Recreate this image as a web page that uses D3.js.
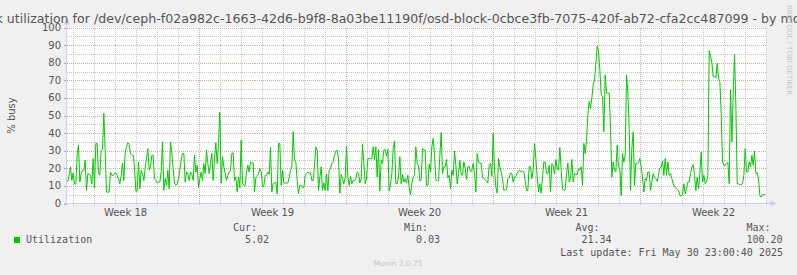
<!DOCTYPE html>
<html>
<head>
<meta charset="utf-8">
<script src="https://cdn.jsdelivr.net/npm/d3@7"></script>
<style>
  body { margin: 0; background: #f0f0f0; }
  svg { display: block; }
  text { font-family: "DejaVu Sans", sans-serif; fill: #555; }
  .mono { font-family: "DejaVu Sans Mono", monospace; white-space: pre; }
</style>
</head>
<body>
<div id="chart"></div>
<script>
// utilization (% busy), left to right, in four stretches
var stretch1 = [13.5,12.6,16,20.8,13.1,17.3,11,11,28.4,33.1,
  12.2,17,18.9,18.9,24.6,7.4,17,16.6,16,11.2,
  25.5,9,34.1,34.1,17,16,30.3,30.7,51.2,30.3,
  6.5,6.5,6.5,17.9,16,16,17,17.3,16,14,
  11.2,16,23,13.1,28.8,32.2,34.5,33.7,28.4,27.4,
  27.4,20.8,7,7,23.6,8.4,18.9,17,13.1,19.8,
  25.5,31.2,18.9,20.8,27.4,27.4,14.1,13.1,11.6,12.2,
  12.2,17.9,35,7.4,14.1,10.3,18.9,8.4,35,28.4,
  19.8,11.6,10.3,11.2,14,18.9,24.6,28.4,28.4,12.2,
  17.9,17.3,13.1,17.9,16.6,13.1,27.4,17.9,21.7,9,
  14,17.9,13.1,22.7,17,30.3,22.7,17,22.7,28.4,
  13.1,25.5,34.5,22.7,34.1,51.8,11.6,26.5,20.8,17,
  13.1,16,17.9,18.9,28.4,28.8,13.1,15,6.5,15,9]
var stretch2 = [36,11.2,10.3,10.3,18,21.7,17.9,23.6,23,23,
  6.5,14.7,15.4,17,19.8,17.9,9.7,9.7,16,16,
  17.9,16.6,31.8,6.5,11.2,11.6,12.2,5.5,34.1,34.1,
  10.3,18.9,11.6,11.6,11.6,11.6,15,18.9,20.8,40.8,
  24.6,23.6,13.1,5.5,10.3,10.3,9,9,16,17,
  17.9,17.3,17.3,13.1,13.1,21.7,32.2,30.3,7.4,15,
  20.8,7.4,11.6,7.4,16.6,7.4,18.9,19.8,22.7,23.6,
  27.4,29.9,30.3,25.5,5.9,16.6,14.1,11.2,14.7,32.6,
  15,10.3,15.4,11.2,13.1,12.8,14.1,17.9,17.3,11.6,
  14.1,33.7,22.7,11.2,14.5,25.5,25.5,25.5,25.5,32.2,
  25,32.2,15,30.7,7,24.6,22.7,30.3,30.7,26.9,
  30.7,7,11.2,17,31.2,35.6,11.2,11.2,15,26.5,
  11.2,16.6,12.2,14.1,11.6,16,9.3,5.1,11.2,15,16]
var stretch3 = [32.2,22.7,21.7,12.8,13.5,31.2,30.3,30.3,10.3,10.3,
  22.3,17.9,32.2,37,27.4,13.5,12.8,13.1,27.4,40.4,
  17,20.8,20.8,25,14.7,16,8.4,18.9,16,29.9,
  21.7,11.2,17,24.6,16.6,16,23.6,19.8,13.5,20.8,
  21.1,17.9,18.9,22.7,17,6.5,28.4,23.6,22.7,22.7,
  15,14.1,13.5,12.8,11.6,21.7,22.7,15.4,39.8,18.9,
  9.3,5.9,25.5,20.8,17.9,14.1,7.4,7.8,7.8,14.1,
  14.7,17.3,17,12.2,15,15.4,17.3,18.5,18.9,17.9,
  18.5,17.9,13.1,7.4,7.4,21.1,20.8,14.1,18.9,34.1,
  25.5,15,6.5,11.2,5.9,15,23.6,23.6,17,17,
  21.7,6.5,22.7,21.7,16.6,25,19.8,18.9,31.8,18.9,
  8.4,7.4,7.8,17,23,12.2,14.1,25,12.2,17,
  16.6,16.6,19.8,18.9,20.8,10.3,34.1,28.4,36,50.3,58]
var stretch4 = [54.1,59.8,67.4,70.3,78.9,89.3,86.5,76,61.7,60.8,
  40.8,73.1,62.7,62.7,62.7,42.7,15,23.6,18.9,17.9,
  33.1,20.8,19.8,4.6,28.4,23.6,27.4,73.1,63.6,42.7,
  7.4,31.2,40.8,10.3,22.7,22.7,23.2,25.5,20.8,15,
  6.5,14.1,13.1,17.9,17.9,7.4,12.2,17,15,14.1,
  12.6,16,20.2,20.8,24,16,25.5,16,23.6,16,
  17,14.1,11.2,9.3,8.8,8,7.4,4.6,4.2,5,
  11.2,5.5,8.4,12.2,12.2,17,20.8,22.1,16,7.4,
  15,8.4,17,29.3,12.2,16,11.2,12.2,16,86.9,
  83.6,79.8,72.2,72.2,71.2,79.8,71.2,69.3,51.2,23.6,
  21.7,21.7,22.7,23.2,11.2,64.6,35,62.7,84.6,56,
  11.2,11.2,10.7,10.7,11.2,16,31.2,17.9,17.9,23.6,
  20.8,27.4,21.7,29.7,17,17.5,14.1,4.6,3.6,5,5,5.02]
var utilization = stretch1.concat(stretch2, stretch3, stretch4)

var yTicks = [0,10,20,30,40,50,60,70,80,90,100]
var legendHeads = ["Cur:", "Min:", "Avg:", "Max:"]
var legendValues = ["  5.02", "  0.03", " 21.34", "100.20"]
var lastUpdate = "Last update: Fri May 30 23:00:40 2025"
var title = "Disk utilization for /dev/ceph-f02a982c-1663-42d6-b9f8-8a03be11190f/osd-block-0cbce3fb-7075-420f-ab72-cfa2cc487099 - by month"

//time span of the month graph (400 x 2h rows)
var end = new Date(Date.UTC(2025, 4, 31, 0, 30))
var start = new Date(end.getTime() - 800 * 3600 * 1000)
var lastSample = new Date(Date.UTC(2025, 4, 30, 23, 0, 40))

var width = 797, height = 275
var plotL = 66.5, plotR = 766.5, plotT = 27.5, plotB = 203.5

var svg = d3.select("#chart").append("svg")
  .attr("width", width).attr("height", height)

svg.append("rect").attr("width", width).attr("height", height).attr("fill", "#f0f0f0")

var x = d3.scaleUtc().domain([start, end]).range([plotL, plotR])
var y = d3.scaleLinear().domain([0, 100]).range([plotB, plotT])
var sampleTime = d3.scaleLinear().domain([0, utilization.length - 1])
  .range([start.getTime(), lastSample.getTime()])

//canvas
svg.append("rect")
  .attr("x", plotL).attr("y", plotT)
  .attr("width", plotR - plotL).attr("height", plotB - plotT)
  .attr("fill", "#fff")

var grid = svg.append("g").attr("shape-rendering", "crispEdges")

//minor grid: every 5 % and every day
grid.selectAll(".hmin").data(d3.range(5, 100, 10)).enter().append("line")
  .attr("x1", plotL).attr("x2", plotR)
  .attr("y1", d => Math.round(y(d)) + 0.5).attr("y2", d => Math.round(y(d)) + 0.5)
  .attr("stroke", "#c8c8c8").attr("stroke-dasharray", "1,1")

var days = d3.utcDay.range(start, end).filter(d => d.getUTCDay() != 0)
grid.selectAll(".vmin").data(days).enter().append("line")
  .attr("x1", d => Math.round(x(d)) + 0.5).attr("x2", d => Math.round(x(d)) + 0.5)
  .attr("y1", plotT).attr("y2", plotB + 2)
  .attr("stroke", "#c8c8c8").attr("stroke-dasharray", "1,1")

//major grid: every 10 % and every week
grid.selectAll(".hmaj").data(yTicks.slice(1)).enter().append("line")
  .attr("x1", plotL).attr("x2", plotR)
  .attr("y1", d => Math.round(y(d)) + 0.5).attr("y2", d => Math.round(y(d)) + 0.5)
  .attr("stroke", "#e4a4a4").attr("stroke-dasharray", "1,1")

//small ticks left of the y axis
grid.selectAll(".ytick").data(yTicks).enter().append("line")
  .attr("x1", plotL - 3).attr("x2", plotL)
  .attr("y1", d => Math.round(y(d)) + 0.5).attr("y2", d => Math.round(y(d)) + 0.5)
  .attr("stroke", "#aaa")

var weeks = d3.utcSunday.range(start, end)
grid.selectAll(".vmaj").data(weeks).enter().append("line")
  .attr("x1", d => Math.round(x(d)) + 0.5).attr("x2", d => Math.round(x(d)) + 0.5)
  .attr("y1", plotT).attr("y2", plotB + 2)
  .attr("stroke", "#e4a4a4").attr("stroke-dasharray", "1,1")

//the data line
var line = d3.line()
  .x((d, i) => x(new Date(sampleTime(i))))
  .y(d => y(d))

svg.append("path").datum(utilization)
  .attr("d", line)
  .attr("fill", "none")
  .attr("stroke", "#00cc00")
  .attr("stroke-width", 1)

//axes with arrows
var axisColor = "#c8d0f8"
svg.append("line").attr("x1", plotL - 3).attr("x2", plotR + 5)
  .attr("y1", plotB).attr("y2", plotB)
  .attr("stroke", axisColor).attr("shape-rendering", "crispEdges")
svg.append("path")
  .attr("d", "M" + (plotR + 4) + "," + (plotB - 3) + "L" + (plotR + 10) + "," + plotB + "L" + (plotR + 4) + "," + (plotB + 3) + "Z")
  .attr("fill", axisColor)
svg.append("line").attr("x1", plotL).attr("x2", plotL)
  .attr("y1", plotB + 2).attr("y2", plotT - 4)
  .attr("stroke", axisColor).attr("shape-rendering", "crispEdges")
svg.append("path")
  .attr("d", "M" + (plotL - 3) + "," + (plotT - 3) + "L" + plotL + "," + (plotT - 9) + "L" + (plotL + 3) + "," + (plotT - 3) + "Z")
  .attr("fill", axisColor)

//y tick labels
svg.selectAll(".ylab").data(yTicks).enter().append("text")
  .attr("x", 61).attr("y", d => y(d) + 3.5)
  .attr("text-anchor", "end")
  .attr("font-size", "10px")
  .text(d => d)

//week labels, centred in the middle of each week
var fmtWeek = d3.utcFormat("%V")
var weekMids = d3.utcSunday.range(d3.utcDay.offset(start, -7), end)
  .map(d => new Date(d.getTime() + 3.5 * 86400000))
  .filter(d => x(d) > plotL && x(d) < plotR)
svg.selectAll(".xlab").data(weekMids).enter().append("text")
  .attr("x", d => x(d)).attr("y", 216)
  .attr("text-anchor", "middle")
  .attr("font-size", "10px")
  .text(d => "Week " + (+fmtWeek(d)))

//title
svg.append("text")
  .attr("x", width / 2).attr("y", 23)
  .attr("text-anchor", "middle")
  .attr("font-size", "12.6px")
  .attr("fill", "#444")
  .text(title)

//y axis label
svg.append("text")
  .attr("transform", "translate(15,115.5) rotate(-90)")
  .attr("text-anchor", "middle")
  .attr("font-size", "10px")
  .text("% busy")

//vertical credit on the right
svg.append("text")
  .attr("transform", "translate(786.5,5) rotate(90)")
  .attr("font-size", "7px")
  .style("fill", "#c4c4c4")
  .text("RRDTOOL / TOBI OETIKER")

//legend
svg.append("rect").attr("x", 14).attr("y", 237).attr("width", 6).attr("height", 6).attr("fill", "#00cc00")
svg.append("text").attr("class", "mono").attr("x", 26).attr("y", 243)
  .attr("font-size", "10px").text("Utilization")

var colX = [233, 404, 575.5, 746.5]
svg.selectAll(".lhead").data(legendHeads).enter().append("text")
  .attr("class", "mono").attr("x", (d, i) => colX[i]).attr("y", 230.5)
  .attr("font-size", "10px").text(d => d)
svg.selectAll(".lval").data(legendValues).enter().append("text")
  .attr("class", "mono").attr("x", (d, i) => colX[i]).attr("y", 243)
  .attr("font-size", "10px").text(d => d)

svg.append("text").attr("class", "mono").attr("x", 783).attr("y", 255.5)
  .attr("text-anchor", "end").attr("font-size", "10px").text(lastUpdate)

svg.append("text").attr("x", 398).attr("y", 266)
  .attr("text-anchor", "middle").attr("font-size", "7.5px")
  .style("fill", "#c4c4c4").text("Munin 2.0.75")
</script>
</body>
</html>
